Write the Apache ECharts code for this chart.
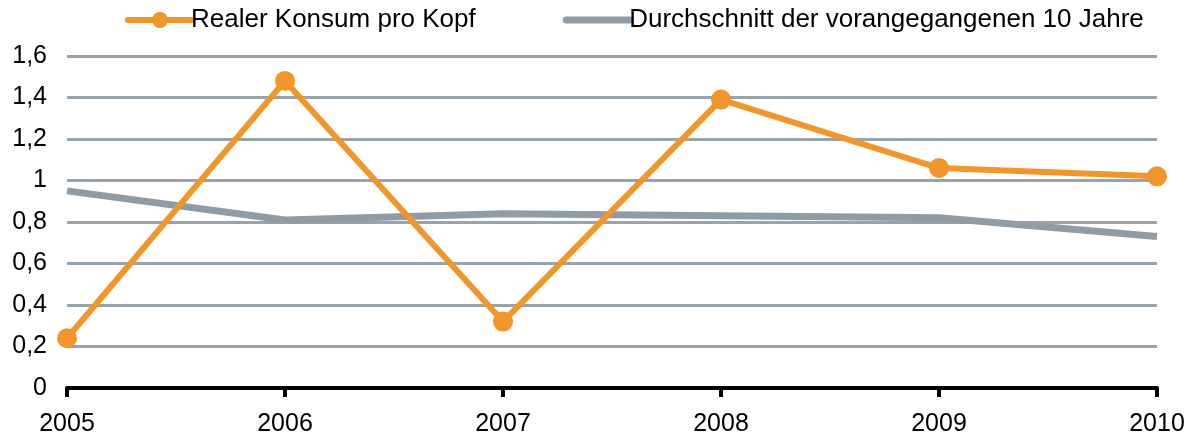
<!DOCTYPE html>
<html>
<head>
<meta charset="utf-8">
<script src="https://cdn.jsdelivr.net/npm/echarts@6/dist/echarts.min.js"></script>
<style>
  html, body { margin: 0; padding: 0; background: #fff; }
  #chart { width: 1194px; height: 439px; }
</style>
</head>
<body>
<div id="chart"></div>
<script>
var years = ['2005', '2006', '2007', '2008', '2009', '2010'];
var konsum = [0.24, 1.48, 0.32, 1.39, 1.06, 1.02];
var durchschnitt = [0.95, 0.81, 0.84, 0.83, 0.82, 0.73];
var seriesNames = ['Realer Konsum pro Kopf', 'Durchschnitt der vorangegangenen 10 Jahre'];

var myChart = echarts.init(document.getElementById('chart'));

var option = {
  animation: false,
  textStyle: { fontFamily: 'Liberation Sans, Arial, sans-serif' },
  legend: {
    left: 125,
    top: 7,
    padding: 0,
    itemWidth: 64,
    itemHeight: 20,
    itemGap: 87,
    textStyle: { fontSize: 26, color: '#000', padding: [0, 0, 0, -6] },
    data: [
      { name: seriesNames[0], lineStyle: { width: 6, cap: 'round' } },
      { name: seriesNames[1], lineStyle: { width: 7, cap: 'round' }, itemStyle: { opacity: 0 } }
    ]
  },
  grid: { left: 67, right: 37, top: 56, bottom: 51 },
  xAxis: {
    type: 'category',
    data: years,
    boundaryGap: false,
    axisLine: { lineStyle: { color: '#000', width: 4 } },
    axisTick: { show: true, length: 9, lineStyle: { color: '#000', width: 4 } },
    axisLabel: { fontSize: 25, color: '#000', margin: 24 },
    splitLine: { show: false }
  },
  yAxis: {
    type: 'value',
    min: 0,
    max: 1.6,
    interval: 0.2,
    axisLine: { show: false },
    axisTick: { show: false },
    axisLabel: {
      fontSize: 25,
      color: '#000',
      margin: 20,
      formatter: function (v) { return String(Math.round(v * 10) / 10).replace('.', ','); }
    },
    splitLine: { lineStyle: { color: '#97a3ad', width: 3 } }
  },
  series: [
    {
      name: seriesNames[1],
      type: 'line',
      data: durchschnitt,
      symbol: 'none',
      lineStyle: { color: '#8f9ca6', width: 7 },
      itemStyle: { color: '#8f9ca6' },
      z: 2
    },
    {
      name: seriesNames[0],
      type: 'line',
      data: konsum,
      symbol: 'circle',
      symbolSize: 20,
      lineStyle: { color: '#f0962a', width: 6 },
      itemStyle: { color: '#f0962a' },
      z: 3
    }
  ]
};

myChart.setOption(option);
</script>
</body>
</html>
